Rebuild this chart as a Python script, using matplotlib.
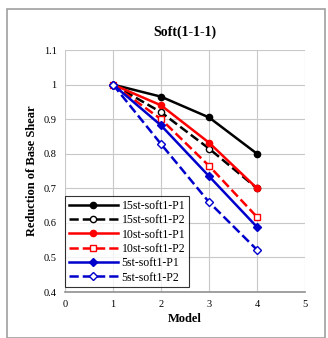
import matplotlib
matplotlib.use('Agg')
import matplotlib.pyplot as plt
from matplotlib.patches import Rectangle

plt.rcParams['font.family'] = ['Liberation Serif', 'DejaVu Serif']

models = [1, 2, 3, 4]
labels = ['15st-soft1-P1', '15st-soft1-P2', '10st-soft1-P1',
          '10st-soft1-P2', '5st-soft1-P1', '5st-soft1-P2']
y = [[1, 0.965, 0.905, 0.80],
     [1, 0.92, 0.815, 0.70],
     [1, 0.94, 0.832, 0.70],
     [1, 0.90, 0.765, 0.617],
     [1, 0.882, 0.735, 0.588],
     [1, 0.828, 0.66, 0.522]]
colors = ['black', 'black', 'red', 'red', '#0000cc', '#0000cc']
styles = ['-', '--', '-', '--', '-', '--']
markers = ['o', 'o', 'o', 's', 'D', 'D']
filled = [True, False, True, False, True, False]

fig = plt.figure(figsize=(3.28, 3.38), dpi=100)
# outer chart border
fig.patches.append(Rectangle((7 / 328, 0), 318 / 328, 1 - 9 / 338,
                             transform=fig.transFigure, fill=False,
                             edgecolor='#a0a0a0', linewidth=1.2))
ax = fig.add_axes([65 / 328, 1 - 292 / 338, 240 / 328, 242 / 338])

for i in range(len(labels)):
    ax.plot(models, y[i], linestyle=styles[i], color=colors[i],
            marker=markers[i], markersize=4.5,
            markerfacecolor=colors[i] if filled[i] else 'white',
            markeredgecolor=colors[i], linewidth=1.8, label=labels[i])

ax.set_xlim(0, 5)
ax.set_ylim(0.4, 1.1)
ax.set_xticks([0, 1, 2, 3, 4, 5])
ax.set_yticks([0.4, 0.5, 0.6, 0.7, 0.8, 0.9, 1.0, 1.1])
ax.set_yticklabels(['0.4', '0.5', '0.6', '0.7', '0.8', '0.9', '1', '1.1'])
ax.tick_params(labelsize=7.5, length=0, pad=6)
ax.grid(True, color='#c8c8c8', linewidth=0.8)
for s in ['top', 'right', 'left']:
    ax.spines[s].set_visible(False)
ax.spines['bottom'].set_color('#909090')
ax.spines['bottom'].set_linewidth(1.2)

ax.set_title('Soft(1-1-1)', fontsize=10, fontweight='bold', pad=10)
ax.set_xlabel('Model', fontsize=9, fontweight='bold', labelpad=3)
ax.set_ylabel('Reduction of Base Shear', fontsize=9, fontweight='bold', labelpad=4)

legend = ax.legend(loc='lower left', bbox_to_anchor=(0.0, 0.02), fontsize=8.5,
                   frameon=True, fancybox=False, handlelength=4.2,
                   borderpad=0.3, labelspacing=0.2, handletextpad=0.3,
                   borderaxespad=0.0)
legend.get_frame().set_edgecolor('black')
legend.get_frame().set_linewidth(0.8)

fig.savefig('out.png', dpi=100)
